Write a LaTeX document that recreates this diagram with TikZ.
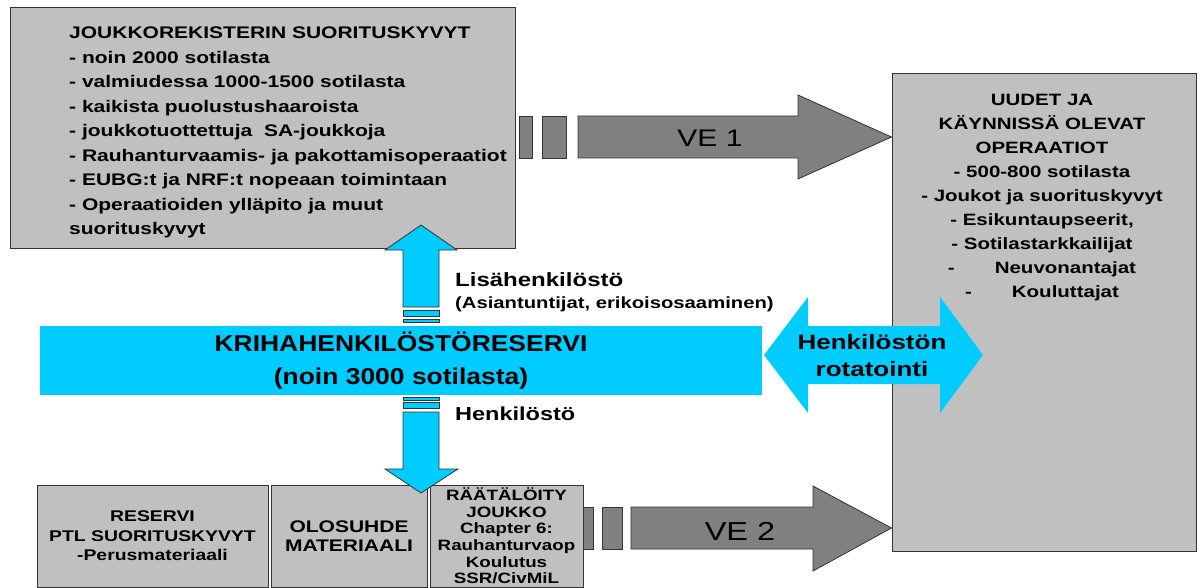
\documentclass[tikz,border=0pt]{standalone}
\usepackage{fontspec}
\setmainfont[FakeStretch=1.25]{Liberation Sans}
\newfontfamily\barfont[FakeStretch=1.15]{Liberation Sans}
\usetikzlibrary{positioning}

\definecolor{krihacyan}{HTML}{00CCFF}
\definecolor{boxgray}{HTML}{C0C0C0}
\definecolor{arrowgray}{HTML}{808080}
\definecolor{edgegray}{HTML}{333333}

\begin{document}
\begin{tikzpicture}[
  x=1pt, y=-1pt,
  graybox/.style = {
    draw=edgegray,
    line width=1pt,
    fill=boxgray,
    inner sep=0pt,
    align=center
  },
  darkarrow/.style = {draw=edgegray, line width=0.8pt, fill=arrowgray},
  cyanarrow/.style = {draw=edgegray, line width=0.8pt, fill=krihacyan},
  listtext/.style = {inner sep=0pt, align=left,
    font=\fontsize{16.8}{24.5}\selectfont\bfseries},
  optext/.style = {inner sep=0pt, align=center,
    font=\fontsize{16.4}{24}\selectfont\bfseries},
  sidetext/.style = {inner sep=0pt, anchor=west}
]
\useasboundingbox (0,0) rectangle (1202,588);

% boxes
\node[graybox, minimum width=505, minimum height=240] (kyvyt) at (262.5,128) {};
\node[listtext, anchor=north west] (kyvytlist) at (69,27)
  {JOUKKOREKISTERIN SUORITUSKYVYT\\
   - noin 2000 sotilasta\\
   - valmiudessa 1000-1500 sotilasta\\
   - kaikista puolustushaaroista\\
   - joukkotuottettuja\ \ SA-joukkoja\\
   - Rauhanturvaamis- ja pakottamisoperaatiot\\
   - EUBG:t ja NRF:t nopeaan toimintaan\\
   - Operaatioiden ylläpito ja muut\\
   suorituskyvyt};

\node[graybox, minimum width=304, minimum height=477] (operaatiot) at (1044,312.5) {};
\node[optext, anchor=north] (optlist) at (1042,94)
  {UUDET JA\\
   KÄYNNISSÄ OLEVAT\\
   OPERAATIOT\\
   - 500-800 sotilasta\\
   - Joukot ja suorituskyvyt\\
   - Esikuntaupseerit,\\
   - Sotilastarkkailijat\\
   -\hspace{40pt}Neuvonantajat\\
   -\hspace{40pt}Kouluttajat};

\node[graybox, minimum width=231, minimum height=102,
  font=\fontsize{15.5}{19.5}\selectfont\bfseries] (reservi) at (152.5,536)
  {RESERVI\\PTL SUORITUSKYVYT\\-Perusmateriaali};
\node[graybox, minimum width=156, minimum height=102,
  font=\fontsize{16.8}{19.5}\selectfont\bfseries] (olosuhde) at (349,536)
  {OLOSUHDE\\MATERIAALI};
\node[graybox, minimum width=153, minimum height=102,
  font=\fontsize{15}{16.6}\selectfont\bfseries] (raataloity) at (506.5,536)
  {RÄÄTÄLÖITY\\JOUKKO\\Chapter 6:\\Rauhanturvaop\\Koulutus\\SSR/CivMiL};

% VE arrows
\draw[darkarrow] (519,116) rectangle (532,158);
\draw[darkarrow] (542,116) rectangle (566,158);
\draw[darkarrow] (578,116) -- (798,116) -- (798,95) -- (operaatiot.west |- 0,137)
  -- (798,179) -- (798,158) -- (578,158) -- cycle;
\node[font=\fontsize{24}{24}\selectfont] (ve1) at (710,138) {VE 1};

\draw[darkarrow] (583,507) rectangle (593,549);
\draw[darkarrow] (602,507) rectangle (622,549);
\draw[darkarrow] (631,507) -- (813,507) -- (813,486) -- (operaatiot.west |- 0,528)
  -- (813,571) -- (813,549) -- (631,549) -- cycle;
\node[font=\fontsize{26}{26}\selectfont] (ve2) at (740,531) {VE 2};

% reserve bar
\node[fill=krihacyan, minimum width=722, minimum height=69, inner sep=0pt,
  align=center, font=\barfont\fontsize{23}{33}\selectfont\bfseries] (krh) at (401,360.5)
  {KRIHAHENKILÖSTÖRESERVI\\(noin 3000 sotilasta)};

% rotation arrow
\fill[krihacyan] (764,355) -- (808,297) -- (808,326) -- (940,326) -- (940,297)
  -- (983,355) -- (940,413) -- (940,384) -- (808,384) -- (808,413) -- cycle;
\node[inner sep=0pt, align=center, font=\fontsize{20.8}{27}\selectfont\bfseries]
  (rotaatio) at (872,356) {Henkilöstön\\rotatointi};

% up and down arrows
\draw[cyanarrow] (403,310) rectangle (439,316);
\draw[cyanarrow] (403,319) rectangle (439,322);
\draw[cyanarrow] (403,307) -- (403,250) -- (385,250) -- (421,225) -- (457,250)
  -- (439,250) -- (439,307) -- cycle;

\draw[cyanarrow] (403,397) rectangle (439,400);
\draw[cyanarrow] (403,402) rectangle (439,408);
\draw[cyanarrow] (403,412) -- (403,469) -- (385,469) -- (421,493) -- (458,469)
  -- (439,469) -- (439,412) -- cycle;

% labels
\node[sidetext, font=\fontsize{19.2}{19.2}\selectfont\bfseries] (lisa) at (455,280)
  {Lisähenkilöstö};
\node[sidetext, font=\fontsize{16.2}{16.2}\selectfont\bfseries] (asiant) at (455,304)
  {(Asiantuntijat, erikoisosaaminen)};
\node[sidetext, font=\fontsize{18.8}{18.8}\selectfont\bfseries] (henk) at (455,414)
  {Henkilöstö};

\end{tikzpicture}
\end{document}
